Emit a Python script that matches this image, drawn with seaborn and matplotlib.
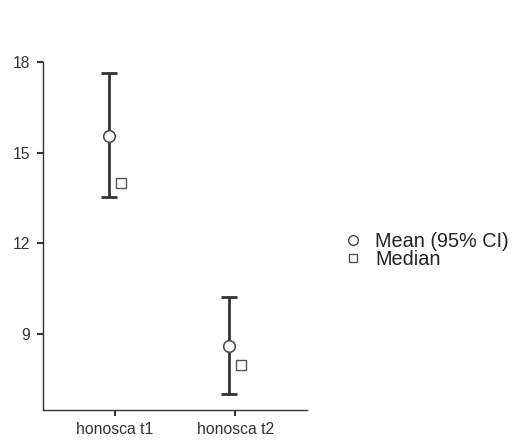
import matplotlib
matplotlib.use("Agg")
import matplotlib.pyplot as plt
import seaborn as sns
import pandas as pd
import numpy as np
from matplotlib.lines import Line2D

categories = ["honosca t1", "honosca t2"]
means = [15.56, 8.61]
ci_low = [13.52, 7.04]
ci_high = [17.62, 10.22]
medians = [14.0, 8.0]
yticks = [9, 12, 15, 18]

sns.set_theme(style="white")
plt.rcParams['font.family'] = ['Liberation Sans', 'DejaVu Sans']

df = pd.DataFrame({"cat": categories, "mean": means, "lo": ci_low,
                   "hi": ci_high, "median": medians})
df["pos"] = np.arange(len(df))

fig = plt.figure(figsize=(5.18, 4.44), dpi=100)
ax = fig.add_axes([0.083, 0.0766, 0.51, 0.791])

line_col = "#333333"
off = 0.05
ax.errorbar(df["pos"] - off, df["mean"],
            yerr=[df["mean"] - df["lo"], df["hi"] - df["mean"]],
            fmt="none", ecolor=line_col, elinewidth=2, capsize=6, capthick=2, zorder=2)
sns.scatterplot(x=df["pos"] - off, y=df["mean"], ax=ax, marker="o", s=70,
                facecolor="white", edgecolor="#444444", linewidth=1.1, zorder=3)
sns.scatterplot(x=df["pos"] + off, y=df["median"], ax=ax, marker="s", s=46,
                facecolor="white", edgecolor="#555555", linewidth=1.0, zorder=3)

ax.set_xlim(-0.6, 1.6)
ax.set_ylim(6.5, 18.1)
ax.set_xticks(df["pos"])
ax.set_xticklabels(categories)
ax.set_yticks(yticks)
ax.set_xlabel("")
ax.set_ylabel("")
for s in ["top", "right"]:
    ax.spines[s].set_visible(False)
for s in ["left", "bottom"]:
    ax.spines[s].set_color("#333333")
    ax.spines[s].set_linewidth(1.0)
ax.spines["left"].set_bounds(6.5, 18)
ax.tick_params(axis="both", length=4, width=1.5, color="#333333",
               labelsize=11.3, labelcolor="#333333", left=True, bottom=True, pad=5)

handles = [Line2D([], [], marker="o", linestyle="none", markerfacecolor="white",
                  markeredgecolor="#444444", markersize=7),
           Line2D([], [], marker="s", linestyle="none", markerfacecolor="white",
                  markeredgecolor="#555555", markersize=6)]
fig.legend(handles, ["Mean (95% CI)", "Median"], loc="center left",
           bbox_to_anchor=(0.628, 0.436), frameon=False, fontsize=14.3,
           handlelength=1.0, handletextpad=0.6, labelspacing=-0.05,
           labelcolor="#222222")

fig.savefig("out.png", dpi=100)
